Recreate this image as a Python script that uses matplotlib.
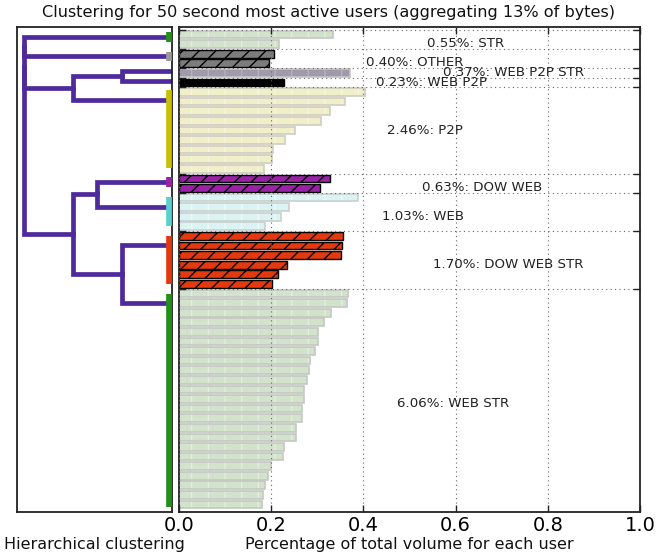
import matplotlib
matplotlib.use('Agg')
import matplotlib.pyplot as plt
import numpy as np

# ---------------- data ----------------
groups = ['STR', 'OTHER', 'WEB P2P STR', 'WEB P2P', 'P2P', 'DOW WEB', 'WEB', 'DOW WEB STR', 'WEB STR']
group_share = [0.55, 0.40, 0.37, 0.23, 2.46, 0.63, 1.03, 1.70, 6.06]

str_vals = [0.335, 0.218]
other_vals = [0.205, 0.195]
webp2pstr_vals = [0.372]
webp2p_vals = [0.228]
p2p_vals = [0.404, 0.361, 0.327, 0.308, 0.251, 0.230, 0.203, 0.201, 0.184]
dowweb_vals = [0.327, 0.306]
web_vals = [0.388, 0.239, 0.221, 0.187]
dowwebstr_vals = [0.356, 0.353, 0.351, 0.234, 0.214, 0.201]
webstr_vals = [0.367, 0.365, 0.330, 0.315, 0.301, 0.301, 0.294, 0.285, 0.283,
               0.278, 0.272, 0.271, 0.266, 0.266, 0.253, 0.253, 0.227, 0.225,
               0.199, 0.192, 0.186, 0.183, 0.179]

group_values = [str_vals, other_vals, webp2pstr_vals, webp2p_vals, p2p_vals,
                dowweb_vals, web_vals, dowwebstr_vals, webstr_vals]

# dendrogram: merges between cluster nodes (0..8 are the groups), merge heights
merges = [(2, 3, 0.321), (9, 4, 0.638), (5, 6, 0.483), (7, 8, 0.321),
          (11, 12, 0.638), (0, 1, 0.955), (14, 10, 0.955), (15, 13, 0.955)]
# where (in leaves from the group's first leaf) each group attaches to the tree
anchor_offset = [0.5, 0.5, 0, 0, 1, 0.5, 1, 1, 1]

# ---------------- styles ----------------
marker_colors = ['#23901a', '#9a9a9a', '#4a2896', '#4a2896', '#c8c000',
                 '#9a22a6', '#58d0d0', '#e4390f', '#23901a']
# (face, hatch colour, edge colour, hatch)
bar_styles = [
    ('#d2e2cb', '#e4eddf', '#c4c8c2', '|'),
    ('#7c7c7c', '#000000', '#000000', '//'),
    ('#a09aab', '#b6b1bf', '#c4c4c4', '|'),
    ('#000000', '#000000', '#000000', ''),
    ('#f1eeca', '#f8f5de', '#cfcdc0', '|'),
    ('#9a22a6', '#000000', '#000000', '//'),
    ('#dbf4f3', '#ecfafa', '#c8d0d0', '|'),
    ('#e4390f', '#000000', '#000000', '//'),
    ('#d2e2cb', '#e4eddf', '#c4c8c2', '|'),
]
label_x = [0.538, 0.406, 0.573, 0.427, 0.451, 0.527, 0.440, 0.551, 0.473]
label_dy = [0.45, 0.45, -0.05, 0.0, 0.05, 0.45, 0.45, 0.45, 0.45]
dendro_color = '#4f2a9c'

plt.rcParams['font.family'] = ['DejaVu Sans']
plt.rcParams['hatch.linewidth'] = 1.0

W, H = 658, 557
fig = plt.figure(figsize=(W / 100, H / 100), dpi=100)
fig.patch.set_facecolor('white')

bottom = (H - 511.7) / H
height = 484.4 / H
axL = fig.add_axes([17 / W, bottom, 154.7 / W, height])
axR = fig.add_axes([179 / W, bottom, 461 / W, height])

sizes = [len(v) for v in group_values]
starts = np.concatenate([[0], np.cumsum(sizes)[:-1]])
n_total = int(np.sum(sizes))

# ---------------- right: bars ----------------
for g, vals in enumerate(group_values):
    pos = starts[g] + np.arange(len(vals)) + 0.5
    face, hcol, edge, hatch = bar_styles[g]
    if hatch == '|':
        axR.barh(pos, vals, height=0.8, color=face, edgecolor=hcol, hatch=hatch,
                 linewidth=0, zorder=1)
        axR.barh(pos, vals, height=0.8, facecolor='none', edgecolor=edge,
                 linewidth=1.2, zorder=1.1)
    else:
        axR.barh(pos, vals, height=0.8, color=face, edgecolor=edge, hatch=hatch,
                 linewidth=1.0, zorder=1)
    ymid = starts[g] + sizes[g] / 2.0 + label_dy[g]
    axR.text(label_x[g], ymid, '%.2f%%: %s' % (group_share[g], groups[g]),
             fontsize=9.6, ha='left', va='center', color='#222222', zorder=5)

axR.set_xlim(0, 1)
axR.set_ylim(n_total + 0.25, -0.25)
axR.set_xticks([0.0, 0.2, 0.4, 0.6, 0.8, 1.0])
axR.set_xticklabels(['0.0', '0.2', '0.4', '0.6', '0.8', '1.0'])
axR.set_yticks(list(starts))
axR.set_yticklabels([])
axR.tick_params(axis='both', direction='in', length=5, width=1, top=True, right=True,
                left=True, bottom=True, color='#222222')
axR.tick_params(axis='x', labelsize=14, pad=3)
axR.set_axisbelow(False)
axR.grid(True, color='#666666', linestyle=(0, (1, 3)), linewidth=0.8, zorder=3)
for s in axR.spines.values():
    s.set_linewidth(1.3)
    s.set_color('#222222')

# ---------------- left: dendrogram ----------------
node_y = []
node_h = []
for g in range(len(groups)):
    node_y.append(10 * (starts[g] + anchor_offset[g]) + 5)
    node_h.append(0.0)
for a, b, h in merges:
    xs = [node_h[a], h, h, node_h[b]]
    ys = [node_y[a], node_y[a], node_y[b], node_y[b]]
    axL.plot(xs, ys, color=dendro_color, linewidth=3.4, solid_capstyle='projecting',
             solid_joinstyle='miter', zorder=2)
    node_y.append((node_y[a] + node_y[b]) / 2.0)
    node_h.append(h)

for g in range(len(groups)):
    y0 = 10 * starts[g] + 5
    y1 = 10 * (starts[g] + sizes[g] - 1) + 5
    if y1 > y0:
        axL.plot([0.019, 0.019], [y0, y1], color=marker_colors[g], linewidth=4.1,
                 solid_capstyle='butt', zorder=3)

axL.set_xlim(1.0, 0.0)
axL.set_ylim(10 * n_total, 0)
axL.set_xticks([])
axL.set_yticks([])
for s in axL.spines.values():
    s.set_linewidth(1.3)
    s.set_color('#222222')

# ---------------- texts ----------------
fig.text(0.5, 1 - 12 / H, 'Clustering for 50 second most active users (aggregating 13% of bytes)',
         ha='center', va='center', fontsize=11.6, color='#111111')
fig.text((17 + 154.7 / 2) / W, 1 - 545 / H, 'Hierarchical clustering',
         ha='center', va='center', fontsize=11.5, color='#111111')
fig.text((179 + 461 / 2) / W, 1 - 545 / H, 'Percentage of total volume for each user',
         ha='center', va='center', fontsize=11.5, color='#111111')

fig.savefig('out.png', dpi=100, facecolor='white')
